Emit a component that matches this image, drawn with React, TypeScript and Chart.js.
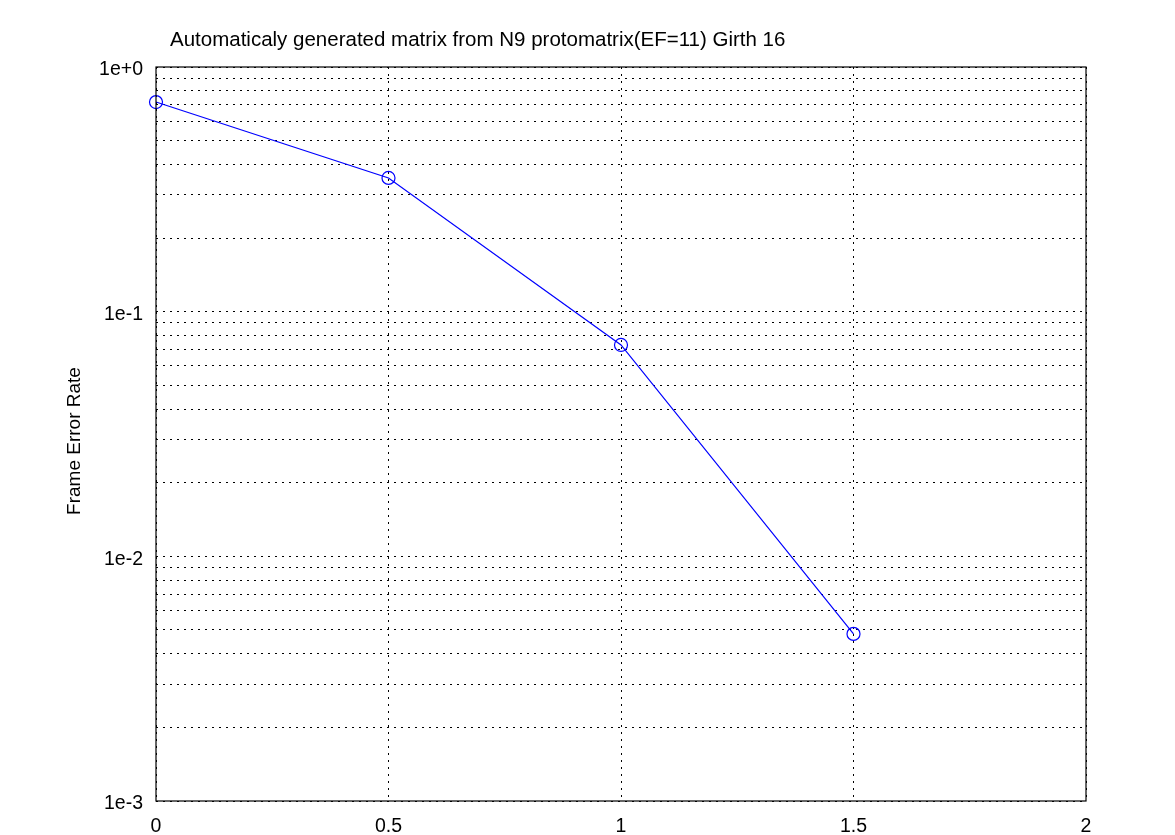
import React, { useEffect, useRef } from "react";
import { Chart, registerables } from "chart.js";

Chart.register(...registerables);

const TITLE = "Automaticaly generated matrix from N9 protomatrix(EF=11) Girth 16";
const Y_LABEL = "Frame Error Rate";
const xValues = [0, 0.5, 1, 1.5];
const ferValues = [0.719, 0.352, 0.0731, 0.00482];
const xTicks = [0, 0.5, 1, 1.5, 2];
const yDecades = [0.001, 0.01, 0.1, 1];
const yDecadeLabels = ["1e-3", "1e-2", "1e-1", "1e+0"];
const yMinorFactors = [1, 2, 3, 4, 5, 6, 7, 8, 9];

const FONT = "'Liberation Sans', Arial, sans-serif";

export default function App() {
  const ref = useRef<HTMLCanvasElement | null>(null);
  useEffect(() => {
    document.body.style.margin = "0";
    const ctx = ref.current!.getContext("2d")!;
    const yTickValues: number[] = [];
    for (let i = 0; i < yDecades.length - 1; i++) {
      for (const f of yMinorFactors) yTickValues.push(yDecades[i] * f);
    }
    yTickValues.push(yDecades[yDecades.length - 1]);

    const deco = {
      id: "deco",
      afterDraw(chart: any) {
        const c = chart.ctx;
        const a = chart.chartArea;
        c.save();
        c.strokeStyle = "#000";
        c.lineWidth = 1.2;
        c.setLineDash([]);
        c.strokeRect(a.left, a.top, a.right - a.left, a.bottom - a.top);
        c.fillStyle = "#000";
        c.font = `20.5px ${FONT}`;
        c.textAlign = "left";
        c.textBaseline = "middle";
        c.fillText(TITLE, 170, 40);
        c.font = `19px ${FONT}`;
        c.translate(75, (a.top + a.bottom) / 2 + 7);
        c.rotate(-Math.PI / 2);
        c.textAlign = "center";
        c.fillText(Y_LABEL, 0, 0);
        c.restore();
      },
    };

    const chart = new Chart(ctx, {
      type: "line",
      data: {
        datasets: [
          {
            data: xValues.map((x, i) => ({ x, y: ferValues[i] })),
            borderColor: "#0000ff",
            borderWidth: 1.2,
            pointRadius: 6.5,
            pointBorderColor: "#0000ff",
            pointBackgroundColor: "rgba(0,0,0,0)",
            pointBorderWidth: 1.2,
            fill: false,
            tension: 0,
            clip: false,
          },
        ],
      },
      options: {
        animation: false,
        responsive: false,
        layout: { padding: { left: 0, right: 89, top: 67, bottom: 0 } },
        plugins: { legend: { display: false }, tooltip: { enabled: false }, title: { display: false } },
        scales: {
          x: {
            type: "linear",
            min: 0,
            max: 2,
            afterBuildTicks: (s: any) => {
              s.ticks = xTicks.map((v) => ({ value: v }));
            },
            afterFit: (s: any) => {
              s.height = 34;
            },
            ticks: {
              color: "#000",
              font: { family: FONT, size: 19.5 },
              padding: 14,
              maxRotation: 0,
              callback: (v: any) => String(v),
            },
            grid: { color: "#000", lineWidth: 1, drawTicks: false },
            border: { display: false, dash: [2, 5] },
          },
          y: {
            type: "logarithmic",
            min: 0.001,
            max: 1,
            afterBuildTicks: (s: any) => {
              s.ticks = yTickValues.map((v) => ({ value: v }));
            },
            afterFit: (s: any) => {
              s.width = 156;
            },
            ticks: {
              color: "#000",
              font: { family: FONT, size: 19.5 },
              padding: 13,
              autoSkip: false,
              labelOffset: 3,
              callback: (v: any) => {
                const idx = yDecades.findIndex((d) => Math.abs(d - v) / d < 1e-6);
                return idx >= 0 ? yDecadeLabels[idx] : "";
              },
            },
            grid: { color: "#000", lineWidth: 1, drawTicks: false },
            border: { display: false, dash: [2, 5] },
          },
        },
      },
      plugins: [deco],
    } as any);
    return () => chart.destroy();
  }, []);
  return (
    <div style={{ position: "absolute", left: 0, top: 0, width: 1175, height: 835, background: "#fff" }}>
      <canvas ref={ref} width={1175} height={835} style={{ width: 1175, height: 835 }} />
    </div>
  );
}
